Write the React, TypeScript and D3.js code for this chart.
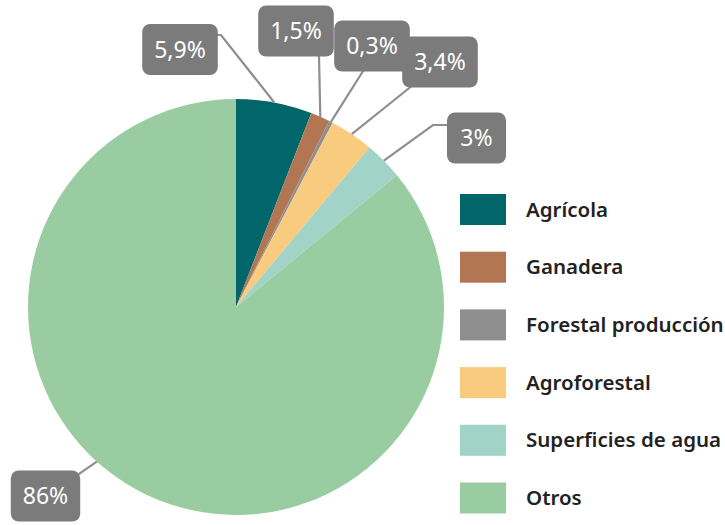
import React, { useEffect, useRef } from 'react'
import * as d3 from 'd3'

const categories = ['Agrícola', 'Ganadera', 'Forestal producción', 'Agroforestal', 'Superficies de agua', 'Otros']
const values = [5.9, 1.5, 0.3, 3.4, 3, 86]
const valueLabels = ['5,9%', '1,5%', '0,3%', '3,4%', '3%', '86%']
const colors = ['#00666a', '#b27653', '#8f8f8f', '#f8cb7e', '#a1d3c7', '#9acca2']

const font = "'Source Sans Pro', 'Noto Sans', sans-serif"

export default function App() {
  const ref = useRef<SVGSVGElement | null>(null)

  useEffect(() => {
    if (!ref.current) return
    const svg = d3.select(ref.current)
    svg.selectAll('*').remove()

    const cx = 236, cy = 307, r = 208

    const pie = d3.pie<number>().sort(null).value(d => d)
    const arcs = pie(values)
    const arc = d3.arc<d3.PieArcDatum<number>>().innerRadius(0).outerRadius(r)

    const g = svg.append('g').attr('transform', `translate(${cx},${cy})`)

    g.selectAll('path.slice')
      .data(arcs)
      .enter()
      .append('path')
      .attr('class', 'slice')
      .attr('d', arc)
      .attr('fill', (d, i) => colors[i])

    // label layout: box centre + connector points (after the rim point)
    const layout = [
      { bx: 180, by: 49.5, pts: [[221, 35], [209, 35]] },
      { bx: 296, by: 31, pts: [[319, 56]] },
      { bx: 372, by: 46, pts: [[365, 68]] },
      { bx: 440, by: 62, pts: [[413, 85]] },
      { bx: 476.5, by: 138, pts: [[433, 125], [447, 125]] },
      { bx: 45.5, by: 496, pts: [[63, 485]], angle: (222 * Math.PI) / 180 },
    ]

    const rim = (a: number): [number, number] => [cx + Math.sin(a) * r, cy - Math.cos(a) * r]

    const line = d3.line()
    arcs.forEach((d, i) => {
      const l = layout[i]
      const a = l.angle ?? (d.startAngle + d.endAngle) / 2
      const pts = [rim(a), ...(l.pts as [number, number][])]
      svg.append('path')
        .attr('d', line(pts))
        .attr('fill', 'none')
        .attr('stroke', '#8f8f8f')
        .attr('stroke-width', 2.2)
    })

    arcs.forEach((d, i) => {
      const l = layout[i]
      const lg = svg.append('g').attr('transform', `translate(${l.bx},${l.by})`)
      const rect = lg.append('rect').attr('fill', '#7b7b7b').attr('rx', 8)
      const t = lg.append('text')
        .attr('text-anchor', 'middle')
        .attr('dy', '0.36em')
        .attr('fill', '#fff')
        .style('font-family', font)
        .style('font-size', '23px')
        .text(valueLabels[i])
      const w = Math.max(59, (t.node() as SVGTextElement).getComputedTextLength() + 24)
      const h = 51
      rect.attr('x', -w / 2).attr('y', -h / 2).attr('width', w).attr('height', h)
    })

    // legend
    const legend = svg.append('g').attr('transform', 'translate(460,194)')
    const step = 57.7
    const item = legend.selectAll('g.item')
      .data(categories)
      .enter()
      .append('g')
      .attr('class', 'item')
      .attr('transform', (d, i) => `translate(0,${i * step})`)
    item.append('rect')
      .attr('width', 46)
      .attr('height', 31)
      .attr('fill', (d, i) => colors[i])
    item.append('text')
      .attr('x', 66)
      .attr('y', 15.5)
      .attr('dy', '0.35em')
      .attr('fill', '#222')
      .style('font-family', font)
      .style('font-size', '20.5px')
      .style('font-weight', 600)
      .text(d => d)
  }, [])

  return (
    <svg
      ref={ref}
      width={725}
      height={525}
      style={{ position: 'absolute', left: 0, top: 0, background: '#fff' }}
    />
  )
}
